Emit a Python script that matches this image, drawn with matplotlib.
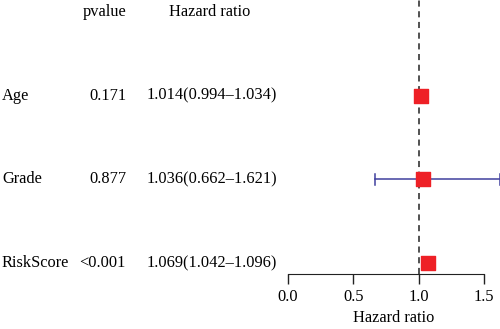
import numpy as np
import matplotlib.pyplot as plt
import matplotlib.transforms as mtransforms

# Data
variables = ['Age', 'Grade', 'RiskScore']
pvalues = ['0.171', '0.877', '<0.001']
hr = [1.014, 1.036, 1.069]
hr_low = [0.994, 0.662, 1.042]
hr_high = [1.034, 1.621, 1.096]
ticks = [0.0, 0.5, 1.0, 1.5]

plt.rcParams['font.family'] = ['Liberation Serif', 'DejaVu Serif']
fs = 11.8

fig = plt.figure(figsize=(5, 3.29), dpi=100)
ax = fig.add_axes([0.576, 0.167, 0.424, 0.833])

ypos = np.arange(len(variables), 0, -1)  # Age=3, Grade=2, RiskScore=1
ax.set_xlim(0, 1.621)
ax.set_ylim(0.87, 4.14)

# reference line
ax.axvline(1.0, color='#222222', linestyle=(0, (4, 3)), linewidth=1.1, zorder=1)

# confidence intervals
for y, lo, hi in zip(ypos, hr_low, hr_high):
    ax.plot([lo, hi], [y, y], color='#40409e', linewidth=1.1, zorder=2, clip_on=False)
    for x in (lo, hi):
        ax.plot([x, x], [y - 0.065, y + 0.065], color='#40409e', linewidth=1.1,
                zorder=2, clip_on=False)

ax.scatter(hr, ypos, marker='s', s=95, color='#ee2026', zorder=3, clip_on=False)

# axes styling
for side in ['top', 'right', 'left']:
    ax.spines[side].set_visible(False)
ax.spines['bottom'].set_bounds(0, 1.5)
ax.spines['bottom'].set_color('#222222')
ax.set_yticks([])
ax.set_xticks(ticks)
ax.set_xticklabels([f'{t:.1f}' for t in ticks], fontsize=fs)
ax.tick_params(axis='x', length=7, width=1, color='#222222', pad=4)
ax.set_xlabel('Hazard ratio', fontsize=fs, labelpad=3)
ax.patch.set_alpha(0)

# table text
trans = mtransforms.blended_transform_factory(fig.transFigure, ax.transData)
ax.text(126 / 500, 4, 'pvalue', transform=trans, ha='right', va='center', fontsize=fs)
ax.text(210 / 500, 4, 'Hazard ratio', transform=trans, ha='center', va='center', fontsize=fs)
for y, name, p, h, lo, hi in zip(ypos, variables, pvalues, hr, hr_low, hr_high):
    ax.text(2 / 500, y, name, transform=trans, ha='left', va='center', fontsize=fs)
    ax.text(126 / 500, y, p, transform=trans, ha='right', va='center', fontsize=fs)
    ax.text(212 / 500, y, f'{h:.3f}({lo:.3f}\u2013{hi:.3f})', transform=trans,
            ha='center', va='center', fontsize=fs)

fig.savefig('out.png', dpi=100)
